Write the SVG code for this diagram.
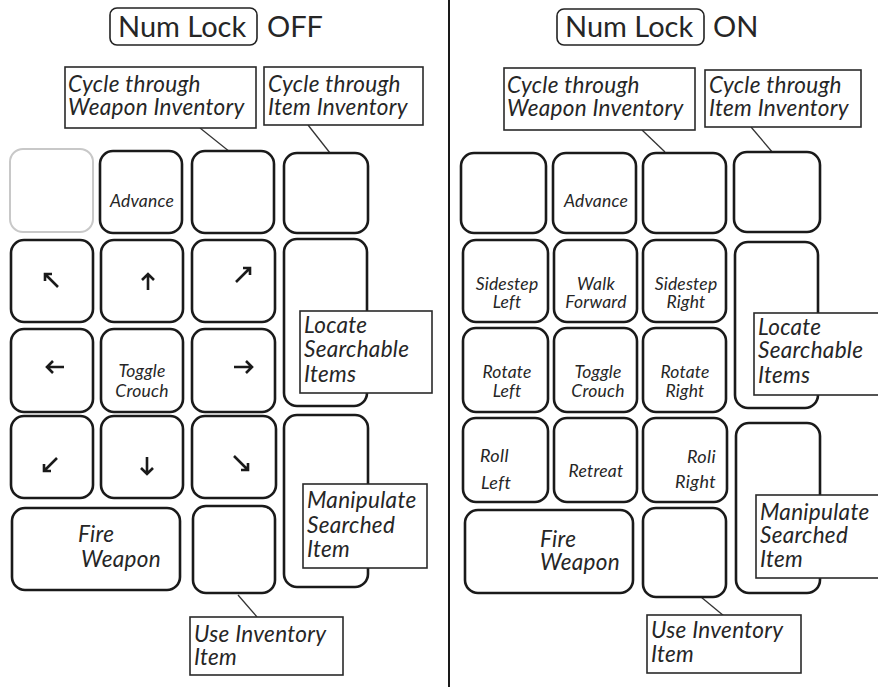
<svg xmlns="http://www.w3.org/2000/svg" width="878" height="687" viewBox="0 0 878 687">
<style>
.key{fill:#fff;stroke:#1a1a1a;stroke-width:2.6}
.ghost{fill:#fff;stroke:#c8c8c8;stroke-width:2}
.lock{fill:#fff;stroke:#222;stroke-width:1.6}
.call{fill:#fff;stroke:#2a2a2a;stroke-width:1.6}
.t{font-family:Lato,"Liberation Sans",sans-serif;font-style:italic;fill:#262626}
.c{font-size:22.5px;letter-spacing:0.3px}
.k{font-size:17.5px;letter-spacing:0.2px;text-anchor:middle}
.r{font-size:18px;letter-spacing:0.4px}
.big{font-family:Lato,"Liberation Sans",sans-serif;font-size:29px;fill:#262626}
.arr{fill:none;stroke:#1a1a1a;stroke-width:2.6;stroke-linecap:butt;stroke-linejoin:miter}
.lead{stroke:#333;stroke-width:1.3}
</style>
<rect width="878" height="687" fill="#fff"/>
<line x1="449" y1="0" x2="449" y2="687" stroke="#1a1a1a" stroke-width="2"/>

<!-- LEFT PANEL: Num Lock OFF -->
<g id="title-off">
<rect class="lock" x="110" y="8" width="147" height="37" rx="7"/>
<text class="big" x="118" y="37">Num Lock</text>
<text class="big" x="267" y="37">OFF</text>
</g>

<g id="connectors">
<line class="lead" x1="200" y1="128" x2="230" y2="152"/>
<line class="lead" x1="308" y1="125" x2="330" y2="153"/>
<line class="lead" x1="238" y1="595" x2="257" y2="617"/>
<line class="lead" x1="642" y1="130" x2="665" y2="152"/>
<line class="lead" x1="751" y1="127" x2="773" y2="153"/>
<line class="lead" x1="701" y1="597" x2="724" y2="616"/>
</g>

<g id="L-k1"><rect class="ghost" x="10" y="149" width="83" height="83" rx="13"/></g>
<g id="L-k2"><rect class="key" x="100" y="151" width="82" height="82" rx="13"/><text class="t k" x="142" y="207">Advance</text></g>
<g id="L-k3"><rect class="key" x="192" y="151" width="82" height="82" rx="13"/></g>
<g id="L-k4"><rect class="key" x="284" y="153" width="84" height="80" rx="13"/></g>

<g id="L-k5"><rect class="key" x="11" y="240" width="82" height="82" rx="13"/><path class="arr" d="M58,287 L45,274 M45,281 L45,274 L52,274"/></g>
<g id="L-k6"><rect class="key" x="101" y="240" width="82" height="82" rx="13"/><path class="arr" d="M148,290 L148,274 M142,280 L148,274 L154,280"/></g>
<g id="L-k7"><rect class="key" x="192" y="240" width="83" height="82" rx="13"/><path class="arr" d="M236,282 L250,268 M243,268 L250,268 L250,275"/></g>
<g id="L-k8"><rect class="key" x="284" y="239" width="83" height="167" rx="13"/></g>

<g id="L-k9"><rect class="key" x="11" y="329" width="82" height="83" rx="13"/><path class="arr" d="M64,367 L47,367 M53,361 L47,367 L53,373"/></g>
<g id="L-k10"><rect class="key" x="101" y="329" width="82" height="83" rx="13"/><text class="t k" x="142" y="377">Toggle</text><text class="t k" x="142" y="397">Crouch</text></g>
<g id="L-k11"><rect class="key" x="192" y="329" width="83" height="83" rx="13"/><path class="arr" d="M234,367 L252,367 M246,361 L252,367 L246,373"/></g>

<g id="L-k12"><rect class="key" x="11" y="416" width="82" height="82" rx="13"/><path class="arr" d="M57,458 L44,471 M44,464 L44,471 L51,471"/></g>
<g id="L-k13"><rect class="key" x="101" y="416" width="82" height="82" rx="13"/><path class="arr" d="M147,457 L147,474 M141,468 L147,474 L153,468"/></g>
<g id="L-k14"><rect class="key" x="192" y="416" width="84" height="82" rx="13"/><path class="arr" d="M234,456 L248,470 M241,470 L248,470 L248,463"/></g>
<g id="L-k15"><rect class="key" x="284" y="415" width="84" height="172" rx="13"/></g>

<g id="L-k16"><rect class="key" x="12" y="508" width="168" height="82" rx="13"/><text class="t c" x="78" y="542">Fire</text><text class="t c" x="81" y="567">Weapon</text></g>
<g id="L-k17"><rect class="key" x="193" y="506" width="82" height="87" rx="13"/></g>

<g id="L-c1"><rect class="call" x="65" y="67" width="191" height="61"/><text class="t c" x="68" y="92">Cycle through</text><text class="t c" x="68" y="115">Weapon Inventory</text></g>
<g id="L-c2"><rect class="call" x="264" y="67" width="159" height="58"/><text class="t c" x="268" y="92">Cycle through</text><text class="t c" x="268" y="115">Item Inventory</text></g>
<g id="L-c3"><rect class="call" x="300" y="311" width="132" height="82"/><text class="t c" x="304" y="333">Locate</text><text class="t c" x="304" y="357">Searchable</text><text class="t c" x="304" y="382">Items</text></g>
<g id="L-c4"><rect class="call" x="303" y="484" width="124" height="84"/><text class="t c" x="307" y="508">Manipulate</text><text class="t c" x="307" y="533">Searched</text><text class="t c" x="307" y="557">Item</text></g>
<g id="L-c5"><rect class="call" x="190" y="617" width="153" height="58"/><text class="t c" x="194" y="642">Use Inventory</text><text class="t c" x="194" y="665">Item</text></g>

<!-- RIGHT PANEL: Num Lock ON -->
<g id="title-on">
<rect class="lock" x="557" y="9" width="147" height="36" rx="7"/>
<text class="big" x="565" y="37">Num Lock</text>
<text class="big" x="713" y="37">ON</text>
</g>

<g id="R-k1"><rect class="key" x="461" y="153" width="85" height="80" rx="13"/></g>
<g id="R-k2"><rect class="key" x="553" y="153" width="83" height="80" rx="13"/><text class="t k" x="596" y="207">Advance</text></g>
<g id="R-k3"><rect class="key" x="643" y="153" width="83" height="80" rx="13"/></g>
<g id="R-k4"><rect class="key" x="734" y="152" width="86" height="80" rx="13"/></g>

<g id="R-k5"><rect class="key" x="463" y="240" width="85" height="82" rx="13"/><text class="t k" x="507" y="290">Sidestep</text><text class="t k" x="507" y="308">Left</text></g>
<g id="R-k6"><rect class="key" x="554" y="240" width="83" height="82" rx="13"/><text class="t k" x="596" y="290">Walk</text><text class="t k" x="596" y="308">Forward</text></g>
<g id="R-k7"><rect class="key" x="643" y="240" width="83" height="82" rx="13"/><text class="t k" x="686" y="290">Sidestep</text><text class="t k" x="686" y="308">Right</text></g>
<g id="R-k8"><rect class="key" x="735" y="242" width="83" height="166" rx="13"/></g>

<g id="R-k9"><rect class="key" x="463" y="328" width="85" height="84" rx="13"/><text class="t k" x="507" y="378">Rotate</text><text class="t k" x="507" y="397">Left</text></g>
<g id="R-k10"><rect class="key" x="554" y="328" width="83" height="84" rx="13"/><text class="t k" x="598" y="378">Toggle</text><text class="t k" x="598" y="397">Crouch</text></g>
<g id="R-k11"><rect class="key" x="643" y="328" width="83" height="84" rx="13"/><text class="t k" x="685" y="378">Rotate</text><text class="t k" x="685" y="397">Right</text></g>

<g id="R-k12"><rect class="key" x="463" y="418" width="85" height="84" rx="13"/><text class="t r" x="480" y="462">Roll</text><text class="t r" x="481" y="489">Left</text></g>
<g id="R-k13"><rect class="key" x="554" y="418" width="83" height="84" rx="13"/><text class="t k" x="596" y="477">Retreat</text></g>
<g id="R-k14"><rect class="key" x="643" y="418" width="84" height="84" rx="13"/><text class="t r" text-anchor="end" x="716" y="463">Roli</text><text class="t r" text-anchor="end" x="716" y="488">Right</text></g>
<g id="R-k15"><rect class="key" x="736" y="423" width="84" height="170" rx="13"/></g>

<g id="R-k16"><rect class="key" x="465" y="510" width="168" height="83" rx="13"/><text class="t c" x="540" y="547">Fire</text><text class="t c" x="540" y="570">Weapon</text></g>
<g id="R-k17"><rect class="key" x="643" y="508" width="83" height="89" rx="13"/></g>

<g id="R-c1"><rect class="call" x="504" y="68" width="191" height="62"/><text class="t c" x="507" y="93">Cycle through</text><text class="t c" x="507" y="116">Weapon Inventory</text></g>
<g id="R-c2"><rect class="call" x="705" y="70" width="156" height="57"/><text class="t c" x="709" y="93">Cycle through</text><text class="t c" x="709" y="116">Item Inventory</text></g>
<g id="R-c3"><rect class="call" x="754" y="313" width="130" height="82"/><text class="t c" x="758" y="335">Locate</text><text class="t c" x="758" y="358">Searchable</text><text class="t c" x="758" y="383">Items</text></g>
<g id="R-c4"><rect class="call" x="756" y="495" width="130" height="83"/><text class="t c" x="760" y="520">Manipulate</text><text class="t c" x="760" y="543">Searched</text><text class="t c" x="760" y="567">Item</text></g>
<g id="R-c5"><rect class="call" x="647" y="615" width="154" height="58"/><text class="t c" x="651" y="638">Use Inventory</text><text class="t c" x="651" y="662">Item</text></g>
</svg>
